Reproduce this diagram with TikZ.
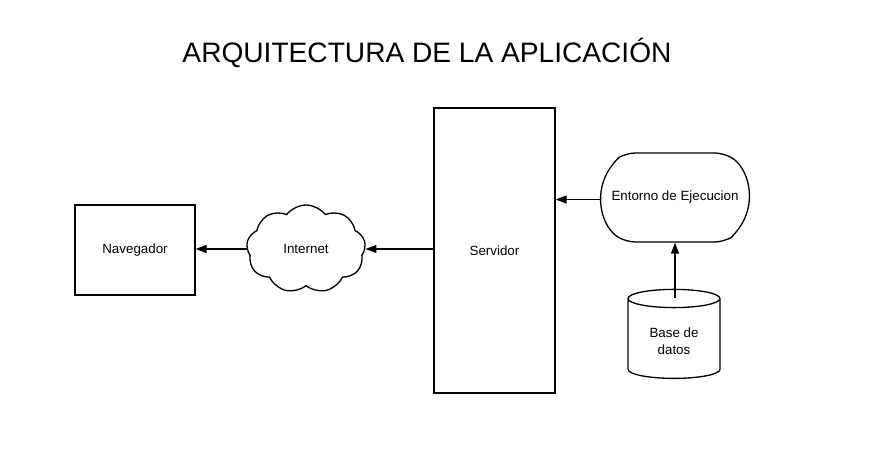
\documentclass[tikz,border=0pt]{standalone}
\usepackage{fontspec}
\setmainfont{Liberation Sans}
\usetikzlibrary{arrows.meta,shapes.symbols,shapes.geometric,shapes.misc}
\begin{document}
\begin{tikzpicture}[
    every node/.style={align=center, font=\fontsize{7.6}{9.5}\selectfont},
    box/.style={draw, line width=0.75pt, rectangle},
    cloudbox/.style={draw, line width=0.75pt, cloud, cloud puffs=9, cloud puff arc=105, aspect=1.35, inner sep=0pt},
    pillbox/.style={draw, line width=0.75pt, rounded rectangle, rounded rectangle arc length=120, rounded corners=5pt},
    dbbox/.style={draw, line width=0.75pt, cylinder, shape border rotate=90, aspect=0.3},
    flow arrow/.style={draw, line width=0.75pt, -{Triangle[length=0.22cm,width=0.16cm]}},
    ]
\useasboundingbox (0,0) rectangle (17.78,8.98);
\node (title) at (8.54,7.92) {\fontsize{16}{19}\selectfont ARQUITECTURA DE LA APLICACIÓN};
\node[box, minimum width=2.4cm, minimum height=1.8cm] (nav) at (2.70,3.98) {Navegador};
\node[cloudbox, minimum width=2.38cm, minimum height=1.76cm] (internet) at (6.12,4.00) {Internet};
\node[box, minimum width=2.42cm, minimum height=5.70cm] (serv) at (9.89,3.97) {Servidor};
\node[pillbox, minimum width=3.2cm, minimum height=1.78cm] (entorno) at (13.50,5.03) {Entorno de Ejecucion};
\node[dbbox, minimum width=1.84cm, minimum height=1.78cm] (bd) at (13.48,2.16) {Base de\\datos};
\coordinate (eleft) at ([yshift=-0.04cm]entorno.west);
\draw[flow arrow] (internet.west) -- (nav.east |- internet.west);
\draw[flow arrow] (serv.west |- internet.east) -- (internet.east);
\draw[flow arrow] (eleft) -- (serv.east |- eleft);
\draw[flow arrow] (entorno.south |- bd.before top) -- (entorno.south);
\end{tikzpicture}
\end{document}
